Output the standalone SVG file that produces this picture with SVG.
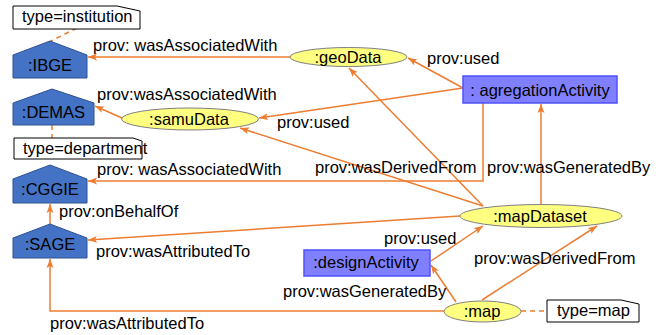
<svg xmlns="http://www.w3.org/2000/svg" width="660" height="335" viewBox="0 0 660 335">
  <style>
    text { font-family: "Liberation Sans", Arial, sans-serif; font-size: 16.5px; fill: #000; }
    .agent { fill: #4472C4; stroke: #2F528F; stroke-width: 1; }
    .entity { fill: #FFFF80; stroke: #808080; stroke-width: 1; }
    .activity { fill: #8080FF; stroke: #5050FF; stroke-width: 1.5; }
    .note { fill: #FFFFFF; stroke: #000; stroke-width: 1; }
    .edge { fill: none; stroke: #ED7D31; stroke-width: 1.5; marker-end: url(#arrow); }
    .dash { fill: none; stroke: #ED7D31; stroke-width: 1.5; stroke-dasharray: 5 4; }
    .mid { text-anchor: middle; }
  </style>
  <defs>
    <marker id="arrow" markerWidth="10" markerHeight="8" refX="9" refY="4" orient="auto" markerUnits="userSpaceOnUse">
      <path d="M0,0.5 L9,4 L0,7.5 L2,4 Z" fill="#ED7D31"/>
    </marker>
  </defs>

  <rect width="660" height="335" fill="#FFFFFF"/>

  <!-- connectors -->
  <g id="connectors">
    <path class="edge" d="M290,57 L88,57"/>
    <path class="edge" d="M122,118 L95,106"/>
    <path class="edge" d="M463,88 L408,58"/>
    <path class="edge" d="M463,88 L259,118"/>
    <path class="edge" d="M483,206 L349,68"/>
    <path class="edge" d="M483,206 L240,128"/>
    <path class="edge" d="M483,103 L483,181 L88,181"/>
    <path class="edge" d="M541,205 L541,104"/>
    <path class="edge" d="M460,216 L88,240"/>
    <path class="edge" d="M50,224 L50,204"/>
    <path class="edge" d="M431,261 L483,226"/>
    <path class="edge" d="M456,302 L431,265"/>
    <path class="edge" d="M482,300 L597,226"/>
    <path class="edge" d="M444,311 L50,311 L50,259"/>
    <path class="dash" d="M77,28 L47,43"/>
    <path class="dash" d="M52,125 L52,138"/>
    <path class="dash" d="M521,311 L547,311"/>

    <text x="93" y="51">prov: wasAssociatedWith</text>
    <text x="97" y="100">prov:wasAssociatedWith</text>
    <text x="427" y="64">prov:used</text>
    <text x="277" y="128">prov:used</text>
    <text x="97" y="175">prov: wasAssociatedWith</text>
    <text x="315" y="173">prov:wasDerivedFrom</text>
    <text x="487" y="173">prov:wasGeneratedBy</text>
    <text x="59" y="217">prov:onBehalfOf</text>
    <text x="96" y="257">prov:wasAttributedTo</text>
    <text x="384" y="244">prov:used</text>
    <text x="474" y="264">prov:wasDerivedFrom</text>
    <text x="283" y="297">prov:wasGeneratedBy</text>
    <text x="50" y="329">prov:wasAttributedTo</text>
  </g>

  <!-- agents -->
  <g id="IBGE">
    <path class="agent" d="M50,41 L87,55 L87,78 L13,78 L13,55 Z"/>
    <text class="mid" x="50" y="71">:IBGE</text>
  </g>
  <g id="DEMAS">
    <path class="agent" d="M52,89 L94,103 L94,125 L13,125 L13,103 Z"/>
    <text class="mid" x="53.5" y="118">:DEMAS</text>
  </g>
  <g id="CGGIE">
    <path class="agent" d="M50,165 L87,179 L87,203 L13,203 L13,179 Z"/>
    <text class="mid" x="50" y="195">:CGGIE</text>
  </g>
  <g id="SAGE">
    <path class="agent" d="M50,224 L87,238 L87,258 L13,258 L13,238 Z"/>
    <text class="mid" x="50" y="250">:SAGE</text>
  </g>

  <!-- entities -->
  <g id="geoData">
    <ellipse class="entity" cx="348.5" cy="57" rx="58.5" ry="9.5"/>
    <text class="mid" x="348" y="63">:geoData</text>
  </g>
  <g id="samuData">
    <ellipse class="entity" cx="190" cy="119" rx="68.5" ry="11"/>
    <text class="mid" x="189" y="125">:samuData</text>
  </g>
  <g id="mapDataset">
    <ellipse class="entity" cx="541" cy="216" rx="81" ry="11.5"/>
    <text class="mid" x="540" y="222">:mapDataset</text>
  </g>
  <g id="map">
    <ellipse class="entity" cx="482.5" cy="311.5" rx="38.5" ry="10.5"/>
    <text class="mid" x="482" y="317">:map</text>
  </g>

  <!-- activities -->
  <g id="agregationActivity">
    <rect class="activity" x="463" y="76" width="154" height="27"/>
    <text class="mid" x="540" y="96">: agregationActivity</text>
  </g>
  <g id="designActivity">
    <rect class="activity" x="304" y="250" width="126" height="26"/>
    <text class="mid" x="366" y="268">:designActivity</text>
  </g>

  <!-- notes -->
  <g id="note-institution">
    <path class="note" d="M13,6 L117,6 L140,11 L140,29 L13,29 Z"/>
    <text x="22" y="22">type=institution</text>
  </g>
  <g id="note-department">
    <path class="note" d="M14,138 L133,138 L142,141 L142,159 L14,159 Z"/>
    <text x="23" y="154">type=department</text>
  </g>
  <g id="note-map">
    <path class="note" d="M547,300 L621,300 L639,304 L639,322 L547,322 Z"/>
    <text x="557" y="316">type=map</text>
  </g>
</svg>
